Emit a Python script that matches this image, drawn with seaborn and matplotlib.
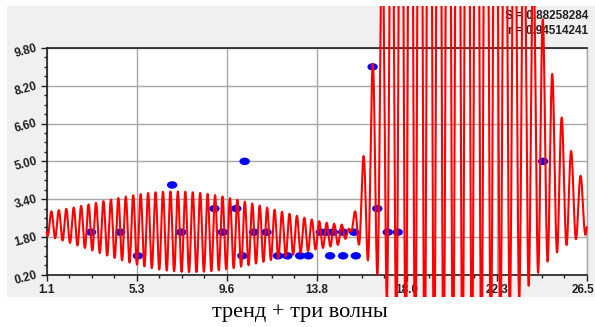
import numpy as np
import pandas as pd
import seaborn as sns
import matplotlib
matplotlib.use("Agg")
import matplotlib.pyplot as plt
from matplotlib.patches import Rectangle
from matplotlib.path import Path
from matplotlib.markers import MarkerStyle
from matplotlib.ticker import AutoMinorLocator
from matplotlib.transforms import ScaledTranslation

# Observations
obs_x = [3.19, 4.56, 5.39, 7.00, 7.43, 8.99, 9.38, 10.02, 10.30, 10.41,
         10.85, 11.44, 11.98, 12.42, 13.02, 13.41, 13.99, 14.27, 14.43, 14.56,
         15.04, 15.04, 15.56, 15.64, 16.43, 16.65, 17.14, 17.61, 24.45]
obs_y = [2, 2, 1, 4, 2, 3, 2, 3, 1, 5,
         2, 2, 1, 1, 1, 1, 2, 2, 1, 2,
         2, 1, 2, 1, 9, 3, 2, 2, 5]

# Fitted model: quadratic trend + waves, each wave inside its own envelope
trend_coef = [2.43, -0.0732, 0.00244]
wave_amp = [1.70, 20.0]
wave_period = [0.35, 0.445]
wave_phase = [3.010, 2.067]
wave_center = [7.5, 20.3]
wave_width_left = [5.8, 3.46]
wave_width_right = [6.2, 3.576]
wave_shape_left = [2, 4]
wave_shape_right = [2, 2]
wave_offset = [0.0, 0.7]

x_range = [1.1, 26.5]
y_range = [0.2, 9.8]
x_tick_labels = ["1.1", "5.3", "9.6", "13.8", "18.0", "22.3", "26.5"]
y_tick_labels = ["0.20", "1.80", "3.40", "5.00", "6.60", "8.20", "9.80"]
stat_lines = ["S = 0.88258284", "r = 0.94514241"]
caption = "тренд + три волны"

# Evaluate the model on a fine grid
xm = np.linspace(x_range[0], x_range[1], 6000)
ym = trend_coef[0] + trend_coef[1] * xm + trend_coef[2] * xm ** 2
for a, p, ph, c, wl, wr, sl, sr, off in zip(wave_amp, wave_period, wave_phase,
                                            wave_center, wave_width_left, wave_width_right,
                                            wave_shape_left, wave_shape_right, wave_offset):
    d = xm - c
    env = np.where(d < 0, np.exp(-np.abs(d / wl) ** sl), np.exp(-np.abs(d / wr) ** sr))
    ym = ym + a * env * (off + np.sin(2 * np.pi * xm / p + ph))

model_df = pd.DataFrame({"x": xm, "y": ym})
obs_df = pd.DataFrame({"x": obs_x, "y": obs_y})

sns.set_theme(style="white")
plt.rcParams["font.family"] = ["Liberation Sans", "DejaVu Sans"]

fig = plt.figure(figsize=(5.95, 3.27), dpi=100)
fig.patch.set_facecolor("white")

W, H = 595.0, 327.0
panel = Rectangle((7 / W, 1 - 297 / H), 588 / W, 291 / H, transform=fig.transFigure,
                  facecolor="#f0f0f0", edgecolor="none", zorder=0)
fig.add_artist(panel)

ax = fig.add_axes([46.7 / W, 1 - 274.7 / H, 540.0 / W, 226.7 / H])
ax.set_facecolor("white")
ax.set_zorder(1)

# Ellipse marker for the observations
circle = Path.unit_circle()
ellipse = Path(circle.vertices * np.array([1.0, 0.72]), circle.codes)
sns.scatterplot(data=obs_df, x="x", y="y", ax=ax, marker=MarkerStyle(ellipse),
                s=56, color="#0000ff", edgecolor="none", linewidth=0, zorder=3)

sns.lineplot(data=model_df, x="x", y="y", ax=ax, color="#ff0000", linewidth=1.5,
             estimator=None, sort=False, zorder=4)
line = ax.lines[-1]
line.set_clip_path(panel)

ax.set_xlim(*x_range)
ax.set_ylim(*y_range)
ax.set_xticks(np.linspace(x_range[0], x_range[1], len(x_tick_labels)))
ax.set_yticks(np.linspace(y_range[0], y_range[1], len(y_tick_labels)))
ax.xaxis.set_minor_locator(AutoMinorLocator(4))
ax.yaxis.set_minor_locator(AutoMinorLocator(4))
ax.tick_params(which="major", direction="out", length=4, width=1, color="#202020",
               bottom=True, left=True, pad=3)
ax.tick_params(which="minor", direction="out", length=2.5, width=1, color="#202020",
               bottom=True, left=True)
ax.set_xticklabels(x_tick_labels, fontweight="bold", fontsize=8.5, color="#202020")
ax.set_yticklabels(y_tick_labels, fontweight="bold", fontsize=8.5, color="#202020",
                   rotation=15, rotation_mode="anchor", ha="right", va="center")
# keep the right-most x label inside the figure
last = ax.get_xticklabels()[-1]
last.set_transform(last.get_transform() + ScaledTranslation(-4 / 100, 0, fig.dpi_scale_trans))

ax.grid(True, which="major", color="#a8a8a8", linewidth=1.0)
ax.set_axisbelow(True)
ax.set_xlabel("")
ax.set_ylabel("")
for side in ["top", "left", "bottom", "right"]:
    ax.spines[side].set_visible(True)
    ax.spines[side].set_color("#202020")
    ax.spines[side].set_linewidth(1.2)
ax.spines["right"].set_color("#a8a8a8")
ax.spines["right"].set_linewidth(1.0)

fig.text(588 / W, 1 - 16 / H, stat_lines[0], ha="right", va="center",
         fontsize=8.5, fontweight="bold", color="#202020", zorder=0.5)
fig.text(588 / W, 1 - 30.5 / H, stat_lines[1], ha="right", va="center",
         fontsize=8.5, fontweight="bold", color="#202020", zorder=0.5)
fig.text(300 / W, 1 - 312 / H, caption, ha="center", va="center",
         fontsize=16, family=["Liberation Serif", "DejaVu Serif"], color="black")

fig.savefig("out.png", dpi=100)
